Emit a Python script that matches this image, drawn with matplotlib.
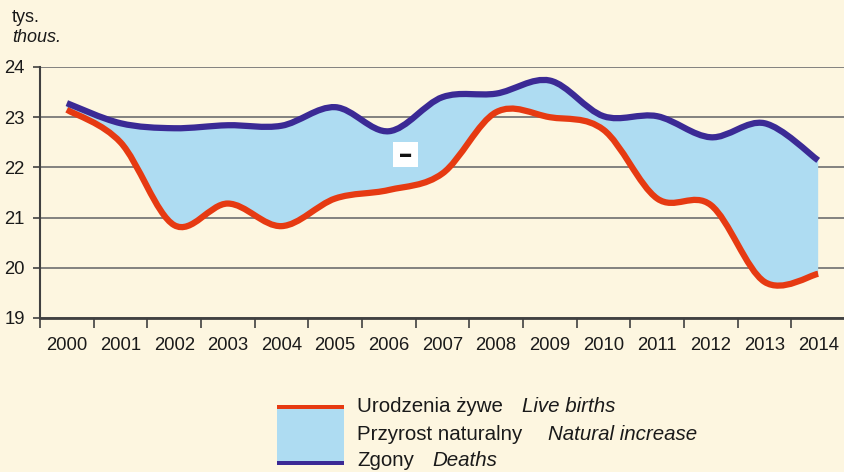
import matplotlib
matplotlib.use('Agg')
import matplotlib.pyplot as plt
from matplotlib.path import Path
from matplotlib.patches import PathPatch, Rectangle

plt.rcParams['font.family'] = ['Liberation Sans', 'DejaVu Sans']

years = ['2000', '2001', '2002', '2003', '2004', '2005', '2006', '2007',
         '2008', '2009', '2010', '2011', '2012', '2013', '2014']
births = [23.15, 22.5, 20.85, 21.28, 20.83, 21.38, 21.55, 21.88,
          23.1, 23.0, 22.75, 21.38, 21.25, 19.72, 19.88]
deaths = [23.28, 22.88, 22.78, 22.84, 22.83, 23.2, 22.72, 23.4,
          23.47, 23.73, 23.02, 23.02, 22.6, 22.88, 22.14]

BG = '#fdf6e0'
RED = '#e63a12'
BLUE = '#3b2a95'
FILL = '#aedcf2'


def smooth(xs, ys):
    # excel-like smoothed line: bezier segments, catmull-rom control points
    verts = [(xs[0], ys[0])]
    codes = [Path.MOVETO]
    n = len(xs)
    for i in range(n - 1):
        a = max(i - 1, 0)
        b = min(i + 2, n - 1)
        c1 = (xs[i] + (xs[i + 1] - xs[a]) / 6, ys[i] + (ys[i + 1] - ys[a]) / 6)
        c2 = (xs[i + 1] - (xs[b] - xs[i]) / 6, ys[i + 1] - (ys[b] - ys[i]) / 6)
        verts += [c1, c2, (xs[i + 1], ys[i + 1])]
        codes += [Path.CURVE4] * 3
    return verts, codes


x = list(range(len(years)))

fig = plt.figure(figsize=(8.45, 4.72), dpi=100, facecolor=BG)
ax = fig.add_axes([40 / 845, 1 - 318 / 472, 805 / 845, 251 / 472])
ax.set_facecolor(BG)

# filled area between the two curves
rv, rc = smooth(x, births)
bv, bc = smooth(x[::-1], deaths[::-1])
fv = rv + bv + [rv[0]]
fc = rc + [Path.LINETO] + bc[1:] + [Path.CLOSEPOLY]
ax.add_patch(PathPatch(Path(fv, fc), facecolor=FILL, edgecolor='none', zorder=2))

ax.add_patch(PathPatch(Path(rv, rc), facecolor='none', edgecolor=RED, lw=4.5,
                       capstyle='butt', zorder=3))
dv, dc = smooth(x, deaths)
ax.add_patch(PathPatch(Path(dv, dc), facecolor='none', edgecolor=BLUE, lw=4.5,
                       capstyle='butt', zorder=4))

ax.text(6.31, 22.26, '\u25ac', ha='center', va='center', fontsize=8, color='#111111',
        bbox=dict(boxstyle='square,pad=0.65', fc='white', ec='none'), zorder=5)

ax.set_xlim(-0.5, 14.5)
ax.set_ylim(19, 24)
ax.set_yticks([19, 20, 21, 22, 23, 24])
ax.set_xticks([i + 0.5 for i in range(-1, 15)], minor=False)
ax.set_xticklabels([])
ax.set_xticks(x, minor=True)
ax.set_xticklabels(years, minor=True)
ax.tick_params(axis='x', which='major', length=7, width=1.2, color='#404040', direction='out')
ax.tick_params(axis='x', which='minor', length=0, pad=14, labelsize=13.3, labelcolor='#1a1a1a')
ax.tick_params(axis='y', length=5, width=1.2, color='#404040', labelsize=13.3,
               labelcolor='#1a1a1a', pad=6)
ax.grid(axis='y', color='#6e6e6e', lw=1.2, zorder=1)
ax.set_axisbelow(True)
for s in ['top', 'right']:
    ax.spines[s].set_visible(False)
ax.spines['left'].set_color('#404040')
ax.spines['left'].set_linewidth(1.5)
ax.spines['bottom'].set_color('#404040')
ax.spines['bottom'].set_linewidth(2)

fig.text(12 / 845, 1 - 17 / 472, 'tys.', fontsize=13, va='center', color='#1a1a1a')
fig.text(12 / 845, 1 - 38 / 472, 'thous.', fontsize=13, va='center', style='italic',
         color='#1a1a1a')

# legend drawn by hand
fig.patches.append(Rectangle((277 / 845, 1 - 465 / 472), 67 / 845, 60 / 472,
                             transform=fig.transFigure, fc=FILL, ec='none'))
fig.patches.append(Rectangle((277 / 845, 1 - 409 / 472), 67 / 845, 4 / 472,
                             transform=fig.transFigure, fc=RED, ec='none'))
fig.patches.append(Rectangle((277 / 845, 1 - 465 / 472), 67 / 845, 4 / 472,
                             transform=fig.transFigure, fc=BLUE, ec='none'))
rows = [(407, 'Urodzenia żywe', 522, 'Live births'),
        (434, 'Przyrost naturalny', 548, 'Natural increase'),
        (461, 'Zgony', 432, 'Deaths')]
for y, pl, xe, en in rows:
    fig.text(357 / 845, 1 - y / 472, pl, fontsize=14.8, va='center', color='#1a1a1a')
    fig.text(xe / 845, 1 - y / 472, en, fontsize=14.8, va='center', style='italic',
             color='#1a1a1a')

fig.savefig('out.png', dpi=100, facecolor=BG)
